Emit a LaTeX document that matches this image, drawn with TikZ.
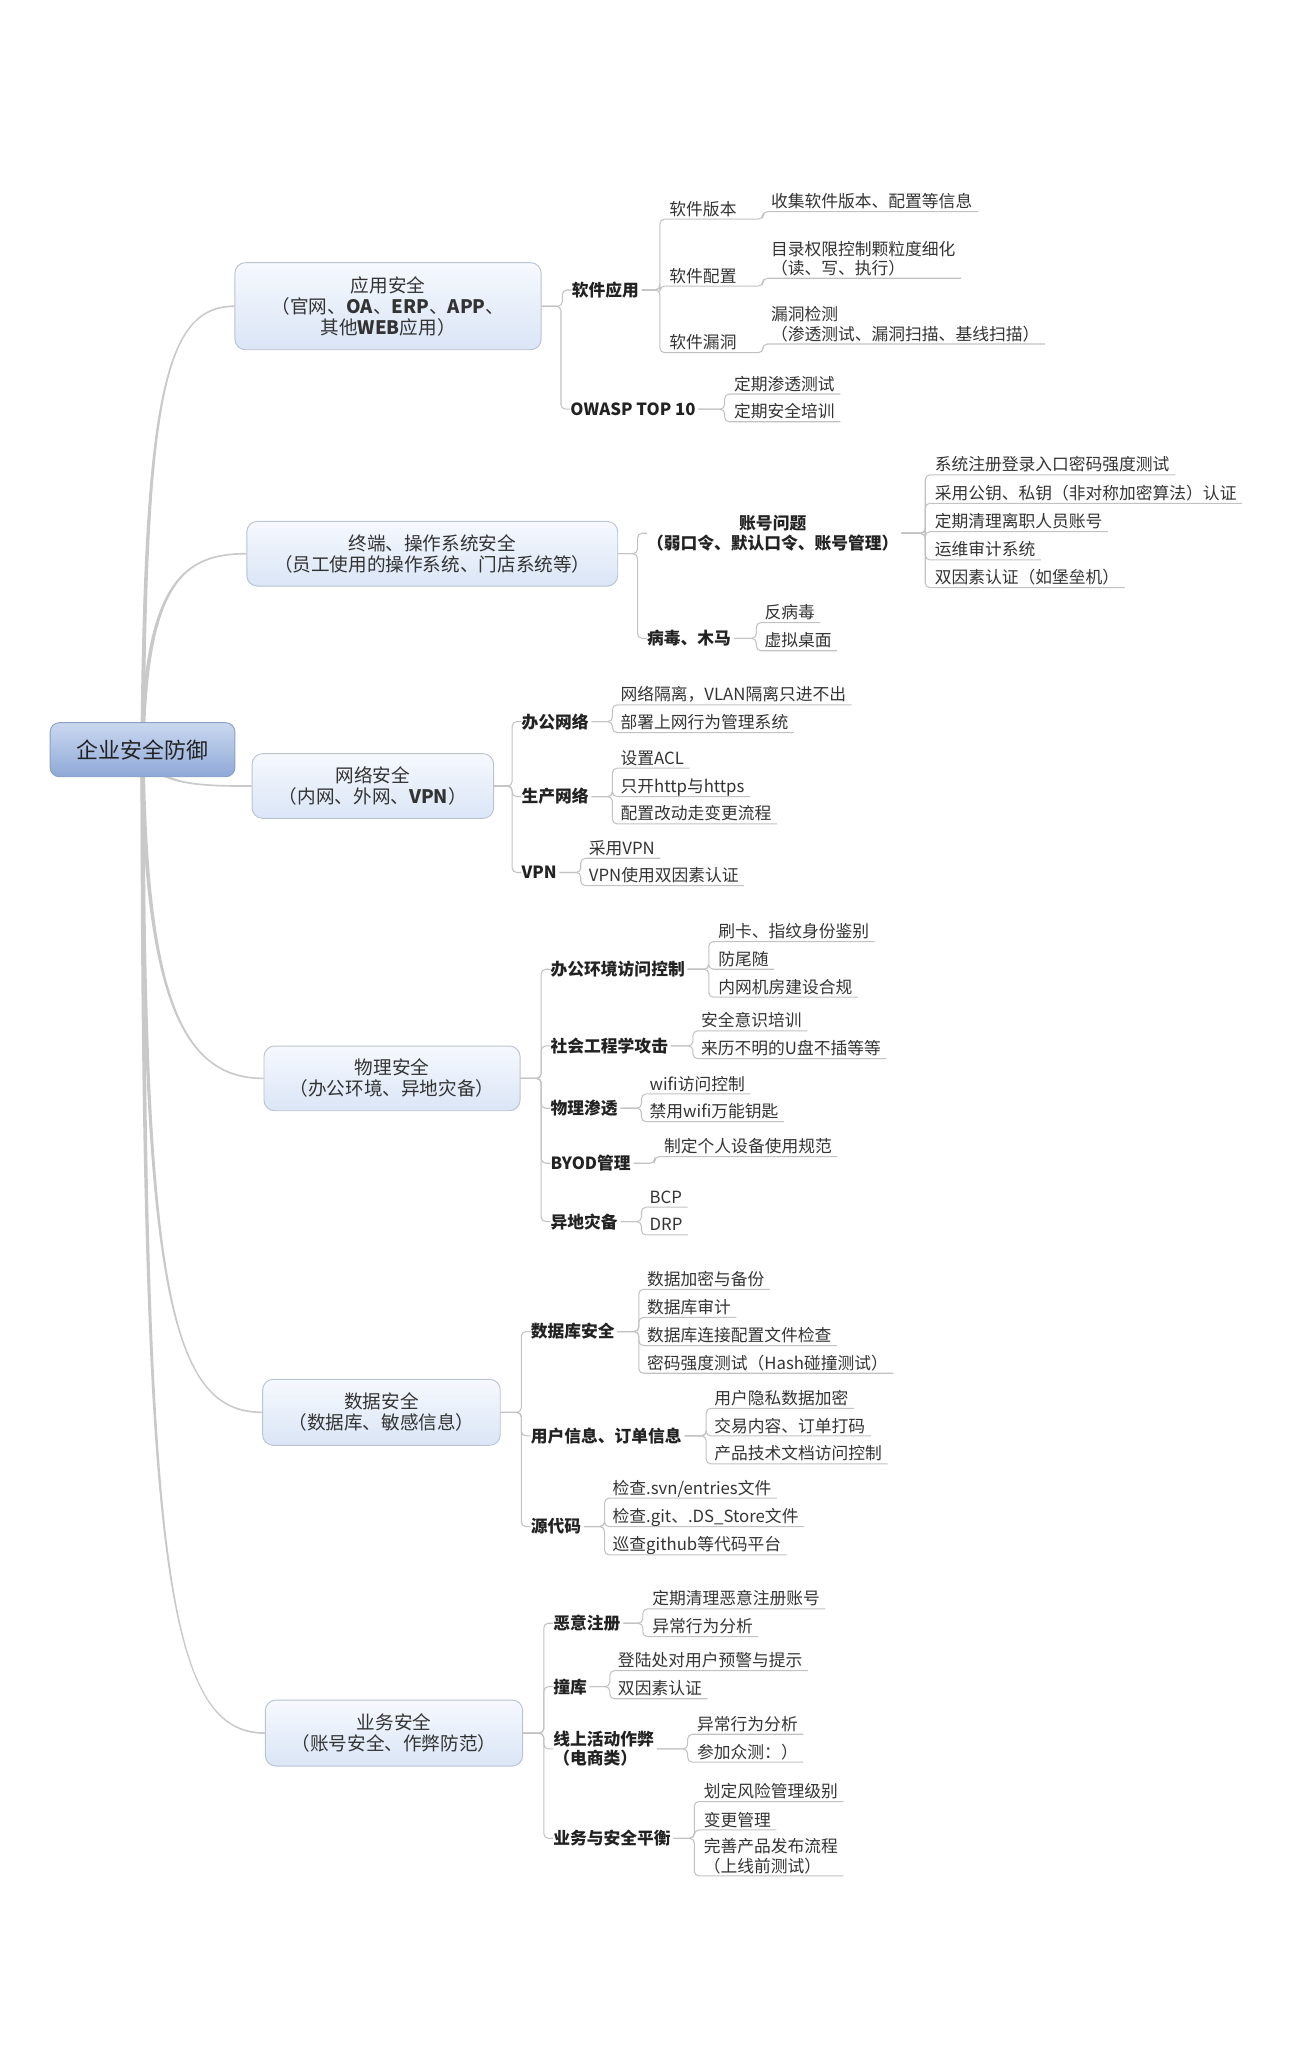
\documentclass[tikz,border=0pt]{standalone}
\usepackage{fontspec}
\setmainfont{Noto Sans CJK SC}
\usetikzlibrary{backgrounds,calc}
\definecolor{lnkc}{HTML}{C2C2C2}
\definecolor{rootc}{HTML}{C9C9C9}
\definecolor{txt}{HTML}{333333}
\definecolor{lbltxt}{HTML}{222222}
\definecolor{boxd}{HTML}{B9C3D1}
\definecolor{boxt}{HTML}{F6F9FE}
\definecolor{boxb}{HTML}{DAE5F6}
\definecolor{roott}{HTML}{CAD8F0}
\definecolor{rootb}{HTML}{8EA9D7}
\definecolor{rootd}{HTML}{8BA0C6}
\newcommand\fsitem{\fontsize{12.7pt}{14.5pt}\selectfont}
\newcommand\fslbl{\fontsize{12.7pt}{14.5pt}\selectfont\bfseries}
\newcommand\fsbox{\fontsize{14.1pt}{15.8pt}\selectfont}
\newcommand\fsroot{\fontsize{16.6pt}{18pt}\selectfont}
% #1 name, #2 parent point, #3 bracket x, #4 text x, #5 underline y, #6 text
\newcommand\leafnode[6]{%
  \coordinate (#1u) at (#3,#5);
  \node[leaf] (#1) at (#4,#5-3) {#6};
  \draw[lnk] (#2) -| (#1u) -- ([xshift=4pt]#1.east |- #1u);
}
\newcommand\leafmulti[6]{%
  \coordinate (#1u) at (#3,#5);
  \node[leafm] (#1) at (#4,#5-1.5) {#6};
  \draw[lnk] (#2) -| (#1u) -- ([xshift=4pt]#1.east |- #1u);
}
% tapered root connector: #1 target, #2,#3 control 1, #4,#5 control 2, #6 side offset
\newcommand\rootcurve[6]{%
  \fill[rootc] ($(root.center)+({#6},-1.6)$) .. controls ({#2+(#6)*0.8},#3) and (#4,{#5-0.8}) .. ($(#1.west)+(0,-0.6)$)
    -- ($(#1.west)+(0,0.6)$) .. controls (#4,{#5+0.8}) and ({#2-(#6)*0.8},#3) .. ($(root.center)+({-(#6)},1.6)$) -- cycle;
}
\begin{document}
\begin{tikzpicture}[x=1pt,y=-1pt,
  lnk/.style={draw=lnkc,line width=0.8pt,rounded corners=3.5pt},
  leaf/.style={anchor=base west,inner sep=0pt,font=\fsitem,text=txt},
  leafm/.style={anchor=south west,inner sep=0pt,font=\fsitem,text=txt,align=left},
  lbl/.style={anchor=west,inner sep=0pt,font=\fslbl,text=lbltxt},
  lvl/.style={draw=boxd,line width=0.7pt,rounded corners=8pt,top color=boxt,bottom color=boxb,align=center,font=\fsbox,text=txt,inner sep=0pt},
  rootbox/.style={draw=rootd,line width=0.7pt,rounded corners=7pt,top color=roott,bottom color=rootb,font=\fsroot,text=lbltxt,inner sep=0pt}
]
\useasboundingbox (0,0) rectangle (978,1566);

% root and level-1 boxes
\node[rootbox,minimum width=140pt,minimum height=41pt] (root) at (108,568) {企业安全防御};
\node[lvl,minimum width=232pt,minimum height=66pt] (b1) at (294,232) {应用安全\\（官网、\textbf{OA}、\textbf{ERP}、\textbf{APP}、\\其他\textbf{WEB}应用）};
\node[lvl,minimum width=281pt,minimum height=49pt] (b2) at (327.5,419.5) {终端、操作系统安全\\（员工使用的操作系统、门店系统等）};
\node[lvl,minimum width=183pt,minimum height=49pt] (b3) at (282.5,595.5) {网络安全\\（内网、外网、\textbf{VPN}）};
\node[lvl,minimum width=194pt,minimum height=49pt] (b4) at (297,817) {物理安全\\（办公环境、异地灾备）};
\node[lvl,minimum width=180pt,minimum height=50pt] (b5) at (289,1070) {数据安全\\（数据库、敏感信息）};
\node[lvl,minimum width=195pt,minimum height=50pt] (b6) at (298.5,1313) {业务安全\\（账号安全、作弊防范）};

\begin{scope}[on background layer]
\rootcurve{b1}{110}{300}{125}{232}{-1.6}
\rootcurve{b2}{110}{440}{140}{419.5}{-1.6}
\rootcurve{b3}{115}{595}{150}{595.5}{1.6}
\rootcurve{b4}{110}{760}{140}{817}{1.6}
\rootcurve{b5}{108}{980}{130}{1070}{1.6}
\rootcurve{b6}{108}{1180}{125}{1313}{1.6}
\end{scope}

% ---------- branch 1
\node[lbl] (l11) at (433,219.7) {软件应用};
\node[lbl] (l12) at (432,310) {OWASP TOP 10};
\draw[lnk] (b1.east) -| ([xshift=-7pt]l11.west) -- (l11.west);
\draw[lnk] (b1.east) -| ([xshift=-7pt]l12.west) -- (l12.west);
\leafnode{a1}{[xshift=2pt]l11.east}{500}{507}{166}{软件版本}
\leafnode{a2}{[xshift=2pt]l11.east}{500}{507}{216.7}{软件配置}
\leafnode{a3}{[xshift=2pt]l11.east}{500}{507}{267.2}{软件漏洞}
\leafnode{a11}{[xshift=4pt]a1.east |- a1u}{578}{584}{160.4}{收集软件版本、配置等信息}
\leafmulti{a21}{[xshift=4pt]a2.east |- a2u}{578}{584}{210.8}{目录权限控制颗粒度细化\\（读、写、执行）}
\leafmulti{a31}{[xshift=4pt]a3.east |- a3u}{578}{584}{260.6}{漏洞检测\\（渗透测试、漏洞扫描、基线扫描）}
\leafnode{o1}{[xshift=2pt]l12.east}{549}{556}{298.5}{定期渗透测试}
\leafnode{o2}{[xshift=2pt]l12.east}{549}{556}{319.5}{定期安全培训}

% ---------- branch 2
\node[lbl,align=center] (l21) at (490,404) {账号问题\\（弱口令、默认口令、账号管理）};
\node[lbl] (l22) at (490,483.6) {病毒、木马};
\draw[lnk] (b2.east) -| ([xshift=-7pt]l21.west) -- (l21.west);
\draw[lnk] (b2.east) -| ([xshift=-7pt]l22.west) -- (l22.west);
\leafnode{c1}{[xshift=2pt]l21.east}{701}{708}{359.8}{系统注册登录入口密码强度测试}
\leafnode{c2}{[xshift=2pt]l21.east}{701}{708}{381.3}{采用公钥、私钥（非对称加密算法）认证}
\leafnode{c3}{[xshift=2pt]l21.east}{701}{708}{402.8}{定期清理离职人员账号}
\leafnode{c4}{[xshift=2pt]l21.east}{701}{708}{424.2}{运维审计系统}
\leafnode{c5}{[xshift=2pt]l21.east}{701}{708}{445.2}{双因素认证（如堡垒机）}
\leafnode{d1}{[xshift=2pt]l22.east}{573}{579}{471.7}{反病毒}
\leafnode{d2}{[xshift=2pt]l22.east}{573}{579}{493}{虚拟桌面}

% ---------- branch 3
\node[lbl] (l31) at (395,546.7) {办公网络};
\node[lbl] (l32) at (395,603.5) {生产网络};
\node[lbl] (l33) at (395,661) {VPN};
\draw[lnk] (b3.east) -| ([xshift=-7pt]l31.west) -- (l31.west);
\draw[lnk] (b3.east) -| ([xshift=-7pt]l32.west) -- (l32.west);
\draw[lnk] (b3.east) -| ([xshift=-7pt]l33.west) -- (l33.west);
\leafnode{e1}{[xshift=2pt]l31.east}{464}{470}{534}{网络隔离，VLAN隔离只进不出}
\leafnode{e2}{[xshift=2pt]l31.east}{464}{470}{555}{部署上网行为管理系统}
\leafnode{f1}{[xshift=2pt]l32.east}{464}{470}{582}{设置ACL}
\leafnode{f2}{[xshift=2pt]l32.east}{464}{470}{603.5}{只开http与https}
\leafnode{f3}{[xshift=2pt]l32.east}{464}{470}{624.2}{配置改动走变更流程}
\leafnode{g1}{[xshift=2pt]l33.east}{440}{446}{650.2}{采用VPN}
\leafnode{g2}{[xshift=2pt]l33.east}{440}{446}{671}{VPN使用双因素认证}

% ---------- branch 4
\node[lbl] (l41) at (417,734.3) {办公环境访问控制};
\node[lbl] (l42) at (417,792.4) {社会工程学攻击};
\node[lbl] (l43) at (417,839.6) {物理渗透};
\node[lbl] (l44) at (417,881.3) {BYOD管理};
\node[lbl] (l45) at (417,925.5) {异地灾备};
\draw[lnk] (b4.east) -| ([xshift=-7pt]l41.west) -- (l41.west);
\draw[lnk] (b4.east) -| ([xshift=-7pt]l42.west) -- (l42.west);
\draw[lnk] (b4.east) -| ([xshift=-7pt]l43.west) -- (l43.west);
\draw[lnk] (b4.east) -| ([xshift=-7pt]l44.west) -- (l44.west);
\draw[lnk] (b4.east) -| ([xshift=-7pt]l45.west) -- (l45.west);
\leafnode{h1}{[xshift=2pt]l41.east}{537}{544}{713.4}{刷卡、指纹身份鉴别}
\leafnode{h2}{[xshift=2pt]l41.east}{537}{544}{734.3}{防尾随}
\leafnode{h3}{[xshift=2pt]l41.east}{537}{544}{755.5}{内网机房建设合规}
\leafnode{i1}{[xshift=2pt]l42.east}{525}{531}{781}{安全意识培训}
\leafnode{i2}{[xshift=2pt]l42.east}{525}{531}{802}{来历不明的U盘不插等等}
\leafnode{j1}{[xshift=2pt]l43.east}{486}{492}{828.8}{wifi访问控制}
\leafnode{j2}{[xshift=2pt]l43.east}{486}{492}{849.8}{禁用wifi万能钥匙}
\leafnode{k1}{[xshift=2pt]l44.east}{496}{503}{876.3}{制定个人设备使用规范}
\leafnode{m1}{[xshift=2pt]l45.east}{486}{492}{914.6}{BCP}
\leafnode{m2}{[xshift=2pt]l45.east}{486}{492}{935.6}{DRP}

% ---------- branch 5
\node[lbl] (l51) at (402,1008.8) {数据库安全};
\node[lbl] (l52) at (402,1087.9) {用户信息、订单信息};
\node[lbl] (l53) at (402,1156.6) {源代码};
\draw[lnk] (b5.east) -| ([xshift=-7pt]l51.west) -- (l51.west);
\draw[lnk] (b5.east) -| ([xshift=-7pt]l52.west) -- (l52.west);
\draw[lnk] (b5.east) -| ([xshift=-7pt]l53.west) -- (l53.west);
\leafnode{n1}{[xshift=2pt]l51.east}{484}{490}{976.8}{数据加密与备份}
\leafnode{n2}{[xshift=2pt]l51.east}{484}{490}{998}{数据库审计}
\leafnode{n3}{[xshift=2pt]l51.east}{484}{490}{1019.4}{数据库连接配置文件检查}
\leafnode{n4}{[xshift=2pt]l51.east}{484}{490}{1040.4}{密码强度测试（Hash碰撞测试）}
\leafnode{p1}{[xshift=2pt]l52.east}{535}{541}{1067}{用户隐私数据加密}
\leafnode{p2}{[xshift=2pt]l52.east}{535}{541}{1087.9}{交易内容、订单打码}
\leafnode{p3}{[xshift=2pt]l52.east}{535}{541}{1109}{产品技术文档访问控制}
\leafnode{q1}{[xshift=2pt]l53.east}{458}{464}{1135}{检查.svn/entries文件}
\leafnode{q2}{[xshift=2pt]l53.east}{458}{464}{1156.6}{检查.git、.DS\_Store文件}
\leafnode{q3}{[xshift=2pt]l53.east}{458}{464}{1178}{巡查github等代码平台}

% ---------- branch 6
\node[lbl] (l61) at (419,1229.8) {恶意注册};
\node[lbl] (l62) at (419,1277.8) {撞库};
\node[lbl,align=left] (l63) at (419,1325) {线上活动作弊\\（电商类）};
\node[lbl] (l64) at (419,1392.7) {业务与安全平衡};
\draw[lnk] (b6.east) -| ([xshift=-7pt]l61.west) -- (l61.west);
\draw[lnk] (b6.east) -| ([xshift=-7pt]l62.west) -- (l62.west);
\draw[lnk] (b6.east) -| ([xshift=-7pt]l63.west) -- (l63.west);
\draw[lnk] (b6.east) -| ([xshift=-7pt]l64.west) -- (l64.west);
\leafnode{r1}{[xshift=2pt]l61.east}{487}{494}{1218.9}{定期清理恶意注册账号}
\leafnode{r2}{[xshift=2pt]l61.east}{487}{494}{1239.9}{异常行为分析}
\leafnode{s1}{[xshift=2pt]l62.east}{462}{468}{1265.7}{登陆处对用户预警与提示}
\leafnode{s2}{[xshift=2pt]l62.east}{462}{468}{1287}{双因素认证}
\leafnode{t1}{[xshift=2pt]l63.east}{521}{528}{1313.9}{异常行为分析}
\leafnode{t2}{[xshift=2pt]l63.east}{521}{528}{1335}{参加众测：）}
\leafnode{u1}{[xshift=2pt]l64.east}{526}{533}{1364.9}{划定风险管理级别}
\leafnode{u2}{[xshift=2pt]l64.east}{526}{533}{1386.4}{变更管理}
\leafmulti{u3}{[xshift=2pt]l64.east}{526}{533}{1421.2}{完善产品发布流程\\（上线前测试）}
\end{tikzpicture}
\end{document}
